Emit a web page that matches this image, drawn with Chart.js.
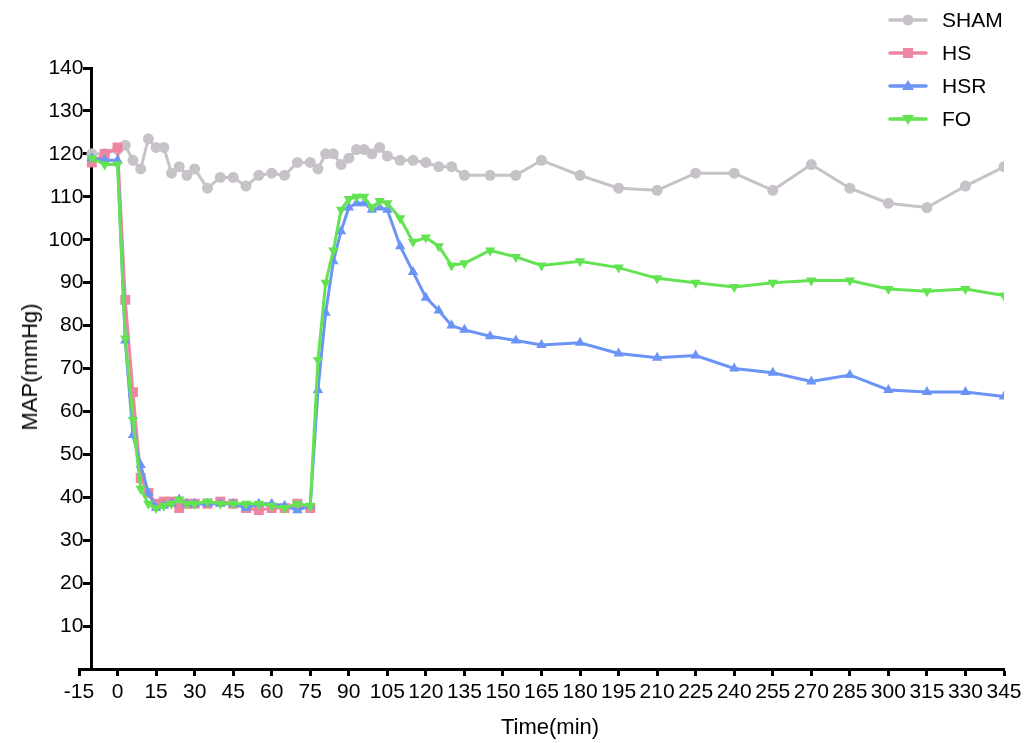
<!DOCTYPE html>
<html>
<head>
<meta charset="utf-8">
<script src="https://cdn.jsdelivr.net/npm/chart.js@4.4.1/dist/chart.umd.min.js"></script>
<style>
  html, body { margin: 0; padding: 0; background: #fff; }
  #wrap { position: relative; width: 1028px; height: 743px; font-family: "Liberation Sans", Arial, sans-serif; }
  #grafica { position: absolute; left: 0; top: 0; }
  #leyenda { position: absolute; left: 888px; top: 3px; margin: 0; padding: 0; list-style: none; }
  #leyenda li { height: 33px; display: flex; align-items: center; font-size: 21px; color: #000; }
  #leyenda svg { margin-right: 12px; }
  .titulo { position: absolute; font-size: 22px; color: #000; white-space: nowrap; }
  #tituloY { left: 30px; top: 367px; transform: translate(-50%, -50%) rotate(-90deg); }
  #tituloX { left: 550px; top: 727px; transform: translate(-50%, -50%); }
</style>
</head>
<body>
<div id="wrap">
  <canvas id="grafica" width="1028" height="743"></canvas>
  <ul id="leyenda"></ul>
  <div class="titulo" id="tituloY">MAP(mmHg)</div>
  <div class="titulo" id="tituloX">Time(min)</div>
</div>
<script>
  // ===== Datos =====
  const tiempo = [
    -10, -5, 0, 3, 6, 9, 12, 15, 18, 21, 24, 27, 30,
    35, 40, 45, 50, 55, 60, 65, 70, 75,
    78, 81, 84, 87, 90, 93, 96, 99, 102, 105,
    110, 115, 120, 125, 130, 135, 145, 155, 165,
    180, 195, 210, 225, 240, 255, 270, 285, 300, 315, 330, 345,
  ];

  const sham = [
    120, 120, 121, 122, 118.5, 116.5, 123.5, 121.5, 121.5, 115.5, 117, 115, 116.5,
    112, 114.5, 114.5, 112.5, 115, 115.5, 115, 118, 118,
    116.5, 120, 120, 117.5, 119, 121, 121, 120, 121.5, 119.5,
    118.5, 118.5, 118, 117, 117, 115, 115, 115, 118.5,
    115, 112, 111.5, 115.5, 115.5, 111.5, 117.5, 112, 108.5, 107.5, 112.5, 117,
  ];

  // HS termina en 75 min
  const hs = [
    118, 120, 121.5, 86, 64.5, 44.5, 41, 38.5, 39, 39, 37.5, 38.5, 38.5,
    38.5, 39, 38.5, 37.5, 37, 37.5, 37.5, 38.5, 37.5,
  ];

  const hsr = [
    119, 118.5, 118.5, 76.5, 54.5, 47.5, 41, 37.5, 38, 38.5, 39.5, 38.5, 38.5,
    38.5, 38.5, 38.5, 37.5, 38.5, 38.5, 38, 37, 38,
    65, 83, 95, 102, 107.5, 108.5, 108.5, 107, 107.5, 107,
    98.5, 92.5, 86.5, 83.5, 80, 79, 77.5, 76.5, 75.5,
    76, 73.5, 72.5, 73, 70, 69, 67, 68.5, 65, 64.5, 64.5, 63.5,
  ];

  const fo = [
    119, 117.5, 117.5, 77, 58, 42, 38.5, 37.5, 38, 38.5, 39.5, 38.5, 38.5,
    39, 38.5, 38.5, 38.5, 38.5, 38, 37.5, 38.5, 38,
    72, 90, 97.5, 107, 109.5, 110, 110, 107.5, 109, 108.5,
    105, 99.5, 100.5, 98.5, 94, 94.5, 97.5, 96, 94,
    95, 93.5, 91, 90, 89, 90, 90.5, 90.5, 88.5, 88, 88.5, 87,
  ];

  const nombres = ["SHAM", "HS", "HSR", "FO"];
  const colores = ["#c6c2c8", "#ec86a1", "#6b94f6", "#63e352"];

  // ===== Utilidades =====
  function toPuntos(valores) {
    const out = [];
    valores.forEach((v, i) => {
      if (v !== null && v !== undefined) out.push({ x: tiempo[i], y: v });
    });
    return out;
  }

  function serie(idx, valores, estilo, radio, rot, orden) {
    return {
      label: nombres[idx],
      data: toPuntos(valores),
      borderColor: colores[idx],
      backgroundColor: colores[idx],
      borderWidth: 3,
      tension: 0,
      pointStyle: estilo,
      pointRadius: radio,
      pointRotation: rot,
      pointBorderWidth: 0,
      pointHoverRadius: radio,
      order: orden,
    };
  }

  // leyenda a la derecha arriba (linea + marcador)
  function renderLegend() {
    const $leg = document.getElementById("leyenda");
    const marcas = [
      (c) => `<circle cx="20" cy="10" r="5.5" fill="${c}"/>`,
      (c) => `<rect x="15" y="5" width="10" height="10" fill="${c}"/>`,
      (c) => `<polygon points="20,4 26,14 14,14" fill="${c}"/>`,
      (c) => `<polygon points="20,16 26,6 14,6" fill="${c}"/>`,
    ];
    nombres.forEach((n, i) => {
      const li = document.createElement("li");
      li.innerHTML = `
        <svg width="42" height="20"><line x1="2" y1="10" x2="38" y2="10" stroke="${colores[i]}" stroke-width="3.5" stroke-linecap="round"/>${marcas[i](colores[i])}</svg>
        <span>${n}</span>`;
      $leg.appendChild(li);
    });
  }

  const fuenteTicks = { family: "'Liberation Sans', Arial, sans-serif", size: 21 };

  const ctx = document.getElementById("grafica").getContext("2d");
  new Chart(ctx, {
    type: "line",
    data: {
      datasets: [
        serie(0, sham, "circle", 5.5, 0, 4),
        serie(1, hs, "rect", 7, 0, 3),
        serie(2, hsr, "triangle", 6, 0, 2),
        serie(3, fo, "triangle", 6, 180, 1),
      ],
    },
    options: {
      responsive: false,
      animation: false,
      layout: { padding: { left: 79, right: 24, top: 68, bottom: 0 } },
      plugins: { legend: { display: false }, tooltip: { enabled: false } },
      scales: {
        x: {
          type: "linear",
          position: "bottom",
          min: -15,
          max: 345,
          afterFit: (s) => { s.height = 74; },
          border: { color: "#000", width: 3 },
          grid: { drawOnChartArea: false, drawTicks: true, tickLength: 7, tickWidth: 3, tickColor: "#000" },
          ticks: { stepSize: 15, color: "#000", font: fuenteTicks, padding: 4, maxRotation: 0, autoSkip: false },
        },
        y: {
          min: 0,
          max: 140,
          position: { x: -10 }, // eje Y cruza en t = -10
          border: { color: "#000", width: 3 },
          grid: {
            drawOnChartArea: false,
            tickLength: 7,
            tickWidth: 3,
            tickColor: (c) => (c.tick && c.tick.value === 0 ? "rgba(0,0,0,0)" : "#000"),
          },
          ticks: {
            stepSize: 10,
            color: "#000",
            font: fuenteTicks,
            // con posicion {x:..} la etiqueta queda pegada al eje; se separa con espacios finos
            callback: (v) => (v === 0 ? "" : v + "\u2009\u2009"),
          },
        },
      },
    },
  });

  renderLegend();
</script>
</body>
</html>
